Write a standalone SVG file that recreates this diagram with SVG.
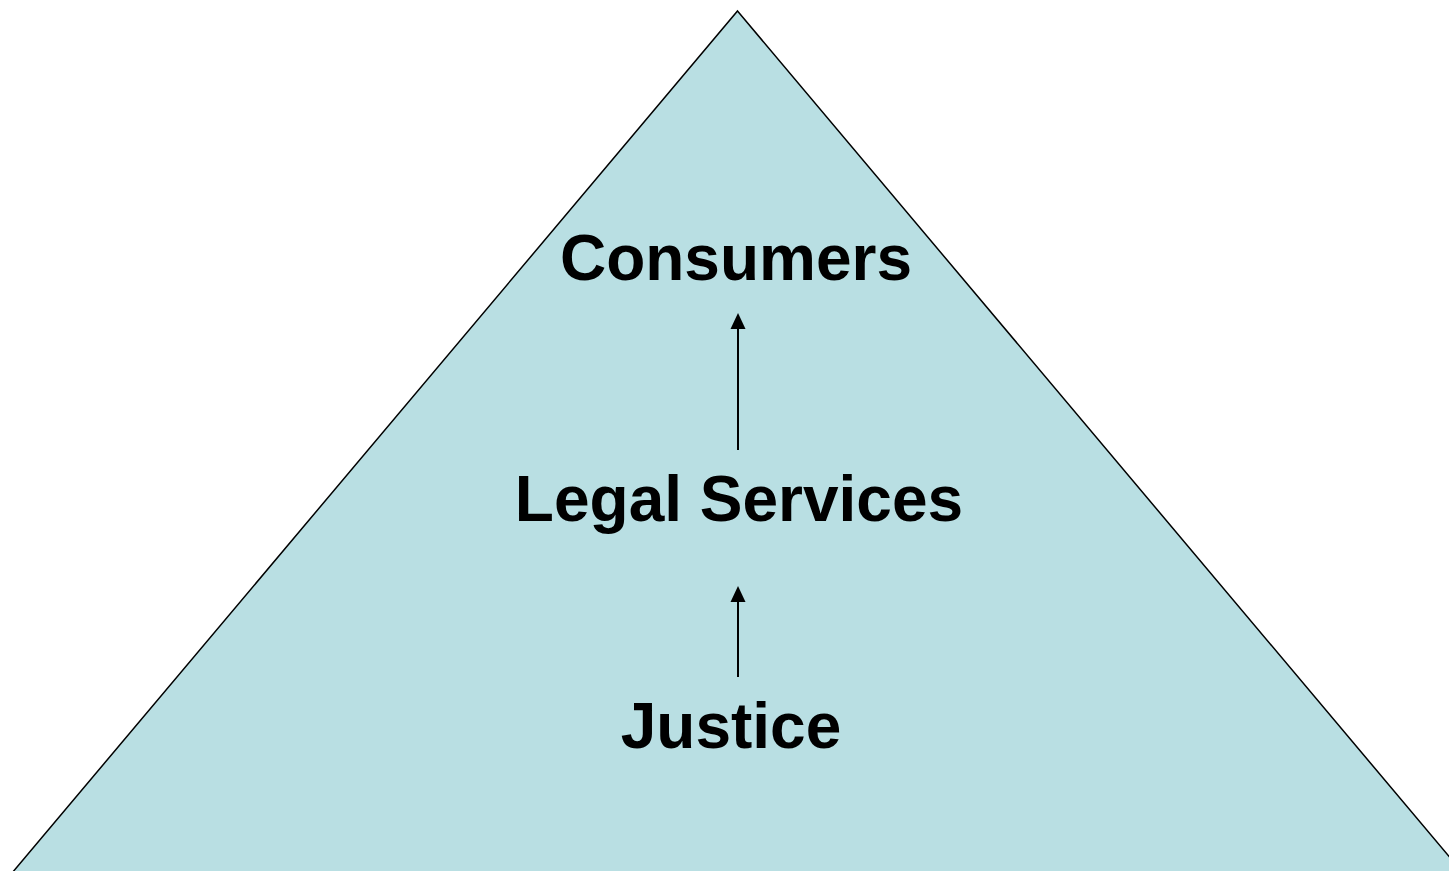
<svg xmlns="http://www.w3.org/2000/svg" width="1449" height="871" viewBox="0 0 1449 871">
<style>
.lbl{font-family:"Liberation Sans",Arial,sans-serif;font-weight:bold;font-size:64px;fill:#000;text-anchor:middle}
.conn{stroke:#000;stroke-width:2;fill:none}
.head{fill:#000}
</style>
<rect width="1449" height="871" fill="#fff"/>
<g id="pyramid">
<polygon points="737.5,11 1463,873 12,873" fill="#B9DFE3" stroke="#000" stroke-width="1.5"/>
</g>
<g id="connectors">
<line class="conn" x1="738" y1="450" x2="738" y2="328"/>
<polygon class="head" points="738,313 730.5,329 745.5,329"/>
<line class="conn" x1="738" y1="677" x2="738" y2="601"/>
<polygon class="head" points="738,586 730.5,602 745.5,602"/>
</g>
<g id="consumers"><text class="lbl" x="736" y="280">Consumers</text></g>
<g id="legal-services"><text class="lbl" x="739" y="521">Legal Services</text></g>
<g id="justice"><text class="lbl" x="731" y="748">Justice</text></g>
</svg>
